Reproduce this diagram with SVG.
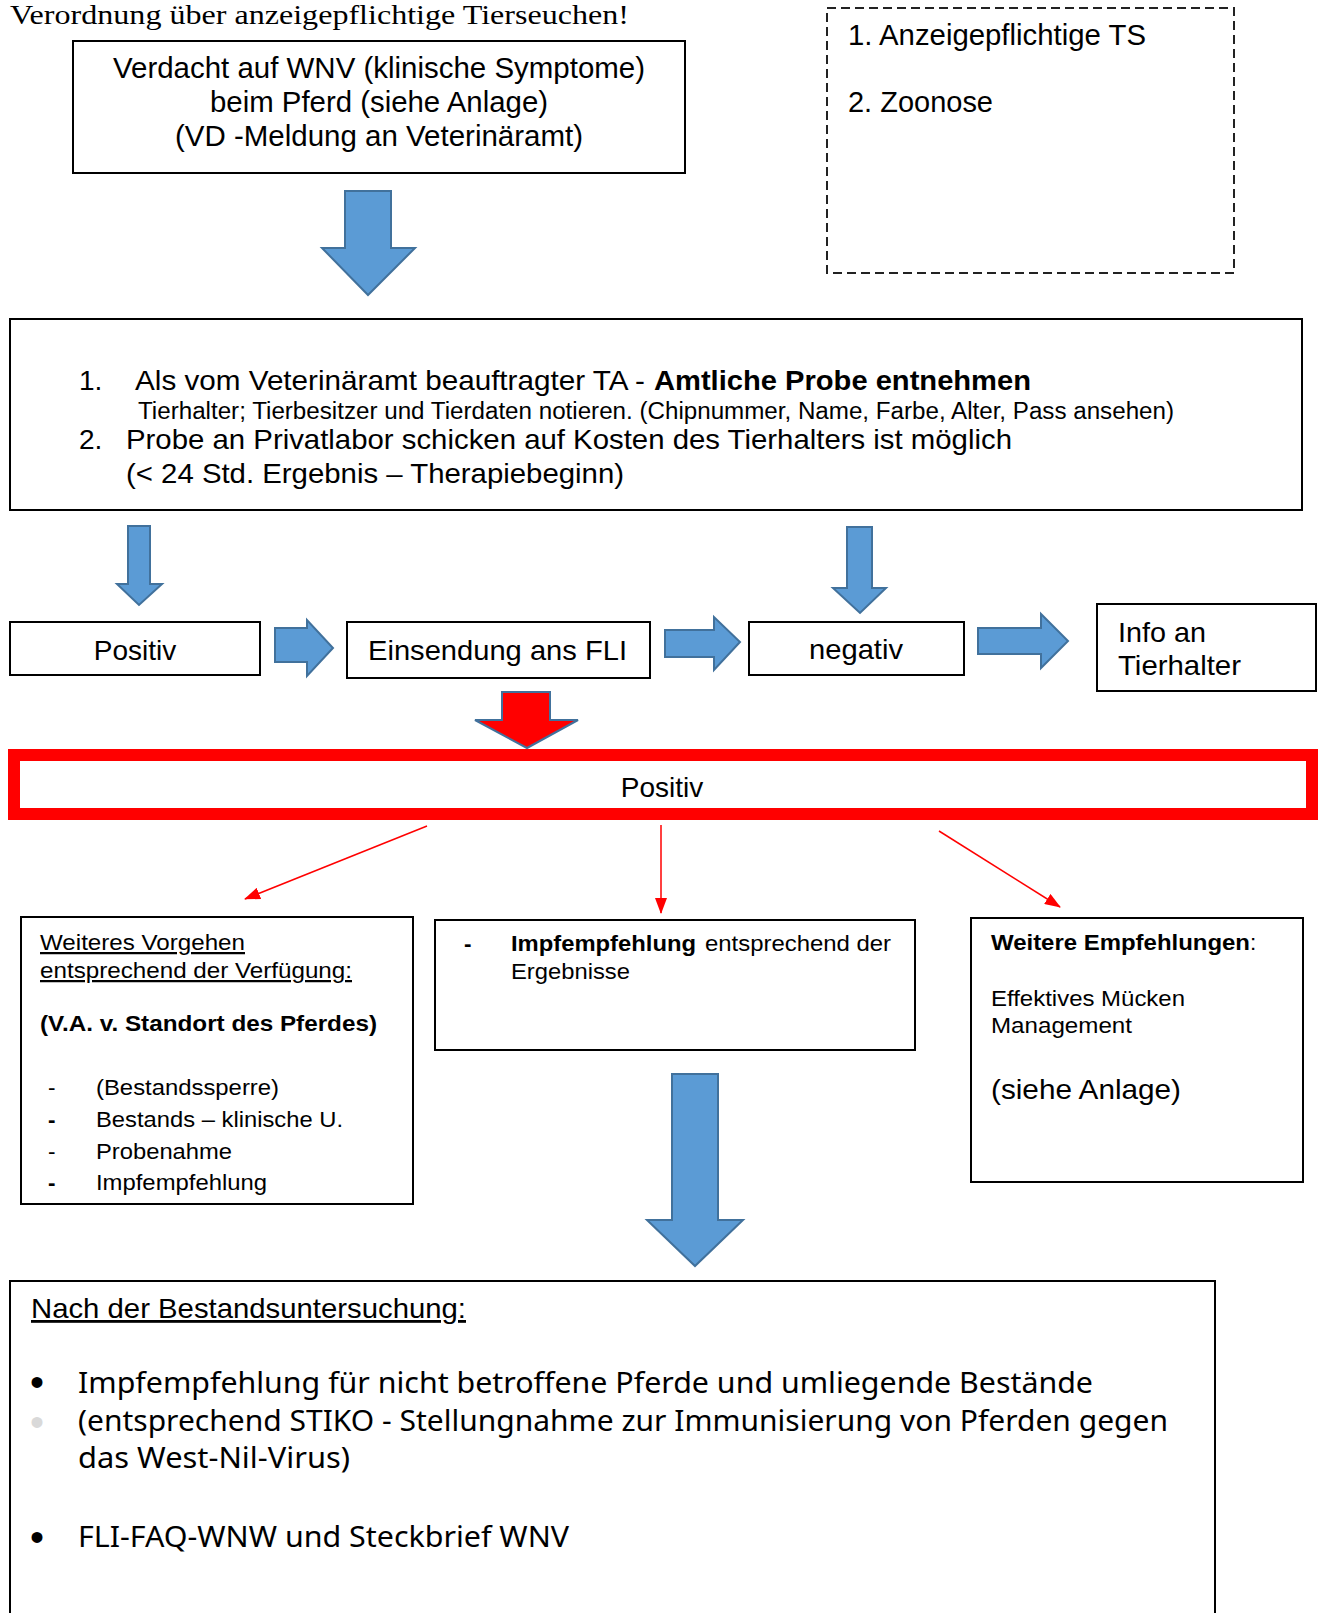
<svg xmlns="http://www.w3.org/2000/svg" width="1322" height="1613" viewBox="0 0 1322 1613">
<style>
.t{font-family:"Liberation Sans",Arial,sans-serif;fill:#000}
.b{font-weight:bold}
.u{text-decoration:underline}
.box{fill:#fff;stroke:#000;stroke-width:2}
.blue{fill:#5B9BD5;stroke:#41719C;stroke-width:2;stroke-linejoin:miter}
.rl{stroke:#FF0000;stroke-width:1.5;fill:none}
.h{font-family:"Noto Sans","Open Sans",sans-serif;fill:#000}
</style>
<defs>
<marker id="ra" markerUnits="userSpaceOnUse" markerWidth="16" markerHeight="12" viewBox="0 0 16 12" refX="15" refY="6" orient="auto">
<path d="M0,0 L16,6 L0,12 Z" fill="#FF0000"/>
</marker>
</defs>
<rect width="1322" height="1613" fill="#fff"/>

<text x="10" y="24" font-family="'Liberation Serif','Times New Roman',serif" font-size="28" textLength="619" lengthAdjust="spacingAndGlyphs">Verordnung über anzeigepflichtige Tierseuchen!</text>

<g id="verdacht">
<rect class="box" x="73" y="41" width="612" height="132"/>
<text class="t" x="113" y="78" font-size="29" textLength="532" lengthAdjust="spacingAndGlyphs">Verdacht auf WNV (klinische Symptome)</text>
<text class="t" x="210" y="112" font-size="29" textLength="338" lengthAdjust="spacingAndGlyphs">beim Pferd (siehe Anlage)</text>
<text class="t" x="175" y="146" font-size="29" textLength="408" lengthAdjust="spacingAndGlyphs">(VD -Meldung an Veterinäramt)</text>
</g>

<g id="hinweis">
<rect x="827" y="8" width="407" height="265" fill="none" stroke="#222" stroke-width="2" stroke-dasharray="9,5"/>
<text class="t" x="848" y="45" font-size="29" textLength="298" lengthAdjust="spacingAndGlyphs">1. Anzeigepflichtige TS</text>
<text class="t" x="848" y="112" font-size="29" textLength="145" lengthAdjust="spacingAndGlyphs">2. Zoonose</text>
</g>

<g id="probe">
<rect class="box" x="10" y="319" width="1292" height="191"/>
<text class="t" x="79" y="390" font-size="28">1.</text>
<text class="t" x="135" y="390" font-size="28" textLength="510" lengthAdjust="spacingAndGlyphs">Als vom Veterinäramt beauftragter TA -</text>
<text class="t b" x="654" y="390" font-size="28" textLength="377" lengthAdjust="spacingAndGlyphs">Amtliche Probe entnehmen</text>
<text class="t" x="138" y="419" font-size="23" textLength="1036" lengthAdjust="spacingAndGlyphs">Tierhalter; Tierbesitzer und Tierdaten notieren. (Chipnummer, Name, Farbe, Alter, Pass ansehen)</text>
<text class="t" x="79" y="449" font-size="28">2.</text>
<text class="t" x="126" y="449" font-size="28" textLength="886" lengthAdjust="spacingAndGlyphs">Probe an Privatlabor schicken auf Kosten des Tierhalters ist möglich</text>
<text class="t" x="126" y="483" font-size="28" textLength="498" lengthAdjust="spacingAndGlyphs">(&lt; 24 Std. Ergebnis – Therapiebeginn)</text>
</g>

<g id="positiv1">
<rect class="box" x="10" y="622" width="250" height="53"/>
<text class="t" x="135" y="660" font-size="28" text-anchor="middle">Positiv</text>
</g>

<g id="einsendung">
<rect class="box" x="347" y="622" width="303" height="56"/>
<text class="t" x="368" y="660" font-size="28" textLength="259" lengthAdjust="spacingAndGlyphs">Einsendung ans FLI</text>
</g>

<g id="negativ">
<rect class="box" x="749" y="622" width="215" height="53"/>
<text class="t" x="809" y="659" font-size="28" textLength="94" lengthAdjust="spacingAndGlyphs">negativ</text>
</g>

<g id="info">
<rect class="box" x="1097" y="604" width="219" height="87"/>
<text class="t" x="1118" y="642" font-size="28" textLength="88" lengthAdjust="spacingAndGlyphs">Info an</text>
<text class="t" x="1118" y="675" font-size="28" textLength="123" lengthAdjust="spacingAndGlyphs">Tierhalter</text>
</g>

<g id="positiv2">
<rect x="14" y="755" width="1298" height="59" fill="#fff" stroke="#FF0000" stroke-width="12"/>
<text class="t" x="662" y="797" font-size="28" text-anchor="middle">Positiv</text>
</g>

<g id="vorgehen">
<rect class="box" x="21" y="917" width="392" height="287"/>
<text class="t u" x="40" y="950" font-size="22.5" textLength="205" lengthAdjust="spacingAndGlyphs">Weiteres Vorgehen</text>
<text class="t u" x="40" y="978" font-size="22.5" textLength="312" lengthAdjust="spacingAndGlyphs">entsprechend der Verfügung:</text>
<text class="t b" x="40" y="1031" font-size="22.5" textLength="337" lengthAdjust="spacingAndGlyphs">(V.A. v. Standort des Pferdes)</text>
<text class="t" x="48" y="1095" font-size="22.5">-</text>
<text class="t" x="96" y="1095" font-size="22.5" textLength="183" lengthAdjust="spacingAndGlyphs">(Bestandssperre)</text>
<text class="t b" x="48" y="1127" font-size="22.5">-</text>
<text class="t" x="96" y="1127" font-size="22.5" textLength="247" lengthAdjust="spacingAndGlyphs">Bestands – klinische U.</text>
<text class="t" x="48" y="1159" font-size="22.5">-</text>
<text class="t" x="96" y="1159" font-size="22.5" textLength="136" lengthAdjust="spacingAndGlyphs">Probenahme</text>
<text class="t b" x="48" y="1190" font-size="22.5">-</text>
<text class="t" x="96" y="1190" font-size="22.5" textLength="171" lengthAdjust="spacingAndGlyphs">Impfempfehlung</text>
</g>

<g id="impf">
<rect class="box" x="435" y="920" width="480" height="130"/>
<text class="t b" x="464" y="951" font-size="22.5">-</text>
<text class="t b" x="511" y="951" font-size="22.5" textLength="185" lengthAdjust="spacingAndGlyphs">Impfempfehlung</text>
<text class="t" x="705" y="951" font-size="22.5" textLength="186" lengthAdjust="spacingAndGlyphs">entsprechend der</text>
<text class="t" x="511" y="979" font-size="22.5" textLength="119" lengthAdjust="spacingAndGlyphs">Ergebnisse</text>
</g>

<g id="empfehlungen">
<rect class="box" x="971" y="918" width="332" height="264"/>
<text class="t b" x="991" y="950" font-size="22.5" textLength="259" lengthAdjust="spacingAndGlyphs">Weitere Empfehlungen</text>
<text class="t" x="1250" y="950" font-size="22.5">:</text>
<text class="t" x="991" y="1006" font-size="22.5" textLength="194" lengthAdjust="spacingAndGlyphs">Effektives Mücken</text>
<text class="t" x="991" y="1033" font-size="22.5" textLength="141" lengthAdjust="spacingAndGlyphs">Management</text>
<text class="t" x="991" y="1099" font-size="28" textLength="190" lengthAdjust="spacingAndGlyphs">(siehe Anlage)</text>
</g>

<g id="nach">
<rect class="box" x="10" y="1281" width="1205" height="400"/>
<text class="t u" x="31" y="1318" font-size="28" textLength="435" lengthAdjust="spacingAndGlyphs">Nach der Bestandsuntersuchung:</text>
<text class="t" x="30" y="1396" font-size="40">•</text>
<text class="t" x="30" y="1436" font-size="40" style="fill:#d9d9d9">•</text>
<text class="t" x="30" y="1551" font-size="40">•</text>
<text class="h" x="78" y="1393" font-size="29" textLength="1015" lengthAdjust="spacingAndGlyphs">Impfempfehlung für nicht betroffene Pferde und umliegende Bestände</text>
<text class="h" x="78" y="1431" font-size="29" textLength="1090" lengthAdjust="spacingAndGlyphs">(entsprechend STIKO - Stellungnahme zur Immunisierung von Pferden gegen</text>
<text class="h" x="78" y="1468" font-size="29" textLength="272" lengthAdjust="spacingAndGlyphs">das West-Nil-Virus)</text>
<text class="h" x="78" y="1547" font-size="29" textLength="491" lengthAdjust="spacingAndGlyphs">FLI-FAQ-WNW und Steckbrief WNV</text>
</g>

<g id="connectors">
<polygon class="blue" points="345,191 391,191 391,248 415,248 368,295 322,248 345,248"/>
<polygon class="blue" points="128,526 150,526 150,584 162,584 139,605 117,584 128,584"/>
<polygon class="blue" points="847,527 872,527 872,588 886,588 860,613 833,588 847,588"/>
<polygon class="blue" points="275,628 307,628 307,620 333,648 307,676 307,662 275,662"/>
<polygon class="blue" points="665,630 714,630 714,617 740,642 714,670 714,657 665,657"/>
<polygon class="blue" points="978,628 1041,628 1041,614 1068,641 1041,668 1041,654 978,654"/>
<polygon points="502,692 550,692 550,720 578,720 527,748 475,720 502,720" fill="#FF0000" stroke="#41719C" stroke-width="2"/>
<polygon class="blue" points="672,1074 718,1074 718,1220 743,1220 695,1266 647,1220 672,1220"/>
<line class="rl" x1="427" y1="826" x2="245" y2="899" marker-end="url(#ra)"/>
<line class="rl" x1="661" y1="825" x2="661" y2="913" marker-end="url(#ra)"/>
<line class="rl" x1="939" y1="831" x2="1060" y2="907" marker-end="url(#ra)"/>
</g>
</svg>
